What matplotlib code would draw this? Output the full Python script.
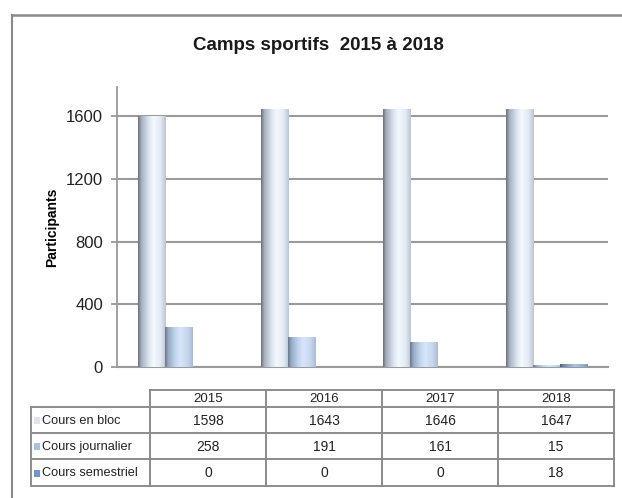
import numpy as np
import matplotlib
matplotlib.use("Agg")
import matplotlib.pyplot as plt
from matplotlib.colors import LinearSegmentedColormap
from matplotlib.lines import Line2D

plt.rcParams['font.family'] = ['Liberation Sans', 'DejaVu Sans']

# data
years = ['2015', '2016', '2017', '2018']
series_names = ['Cours en bloc', 'Cours journalier', 'Cours semestriel']
cours_bloc = [1598, 1643, 1646, 1647]
cours_journalier = [258, 191, 161, 15]
cours_semestriel = [0, 0, 0, 18]
yticks = [0, 400, 800, 1200, 1600]

series = [cours_bloc, cours_journalier, cours_semestriel]
key_colors = ['#dfe6ef', '#a9c0de', '#6f96cc']
# cylinder shading, left to right
shades = [
    ['#6a717c', '#a6afbd', '#dbe4f0', '#f4f8ff', '#e4ebf4', '#bcc5d1'],
    ['#66768c', '#97abc6', '#c3d7ef', '#d6e6fa', '#c6d8ee', '#aabbd2'],
    ['#4a5b75', '#6f87aa', '#93b0d6', '#a9c3e6', '#98b2d4', '#7f96b8'],
]

W, H = 622, 498
fig = plt.figure(figsize=(W / 100, H / 100), dpi=100)


def px(x0, y0, x1, y1):
    return [x0 / W, 1 - y1 / H, (x1 - x0) / W, (y1 - y0) / H]


# outer frame (top and left edges only visible)
fig.add_artist(Line2D([12 / W, 1], [1 - 15 / H, 1 - 15 / H], color='#8a8a8a', lw=1.8))
fig.add_artist(Line2D([12 / W, 12 / W], [0, 1 - 15 / H], color='#8a8a8a', lw=1.5))

fig.text(318 / W, 1 - 46 / H, 'Camps sportifs  2015 à 2018', ha='center', va='center',
         fontsize=13.5, fontweight='bold', color='#1a1a1a')

ax = fig.add_axes(px(117, 87, 608, 367))
n = len(years)
x = np.arange(n)
bw = 0.22
ax.set_yticks(yticks)
ax.set_yticklabels([str(t) for t in yticks], fontsize=12)
ax.set_xticks([])
ax.grid(axis='y', color='#9a9a9a', lw=1.5)
ax.set_axisbelow(True)
for s in ['top', 'right']:
    ax.spines[s].set_visible(False)
ax.spines['left'].set_color('#9a9a9a')
ax.spines['bottom'].set_color('#9a9a9a')
ax.spines['left'].set_linewidth(1.3)
ax.spines['bottom'].set_linewidth(1.5)
ax.tick_params(axis='y', length=4, color='#9a9a9a', width=1.3, pad=6, labelcolor='#222222')
ax.set_ylabel('Participants', fontsize=10, fontweight='bold', labelpad=5)

grad = np.linspace(0, 1, 256).reshape(1, -1)
for k, vals in enumerate(series):
    cmap = LinearSegmentedColormap.from_list('c%d' % k, list(zip([0, 0.12, 0.38, 0.55, 0.8, 1.0], shades[k])))
    offs = (k - 1) * bw
    bars = ax.bar(x + offs, vals, width=bw, color='none', edgecolor='none', zorder=3)
    for b in bars:
        if b.get_height() <= 0:
            continue
        x0 = b.get_x()
        im = ax.imshow(grad, cmap=cmap, aspect='auto', zorder=3,
                       extent=[x0, x0 + b.get_width(), 0, b.get_height()])
        im.set_clip_path(b)
ax.set_xlim(-0.5, n - 0.5)
ax.set_ylim(0, 1786)

# data table under the plot
tx = fig.add_axes(px(0, 380, W, 498))
tx.set_xlim(0, W)
tx.set_ylim(498, 380)
tx.axis('off')
col_edges = [150, 266, 382, 498, 614]
row_edges = [390, 407, 433, 459, 486]
left = 31
lc = '#8c8c8c'
lw = 1.4
# header row
tx.plot([col_edges[0], col_edges[-1]], [row_edges[0]] * 2, color=lc, lw=lw)
for r in row_edges[1:]:
    tx.plot([left, col_edges[-1]], [r, r], color=lc, lw=lw)
for c in col_edges:
    tx.plot([c, c], [row_edges[0], row_edges[-1]], color=lc, lw=lw)
tx.plot([left, left], [row_edges[1], row_edges[-1]], color=lc, lw=lw)
for j, yr in enumerate(years):
    tx.text((col_edges[j] + col_edges[j + 1]) / 2, (row_edges[0] + row_edges[1]) / 2 + 0.5, yr,
            ha='center', va='center', fontsize=9.5, color='#222222')
for i, name in enumerate(series_names):
    yc = (row_edges[i + 1] + row_edges[i + 2]) / 2 + 0.5
    tx.add_patch(plt.Rectangle((34, yc - 3.5), 6, 7, color=key_colors[i], lw=0))
    tx.text(42, yc, name, ha='left', va='center', fontsize=9.2, color='#222222')
    for j, v in enumerate(series[i]):
        tx.text((col_edges[j] + col_edges[j + 1]) / 2, yc, str(v), ha='center', va='center',
                fontsize=10, color='#222222')

fig.savefig('out.png', dpi=100, facecolor='white')
